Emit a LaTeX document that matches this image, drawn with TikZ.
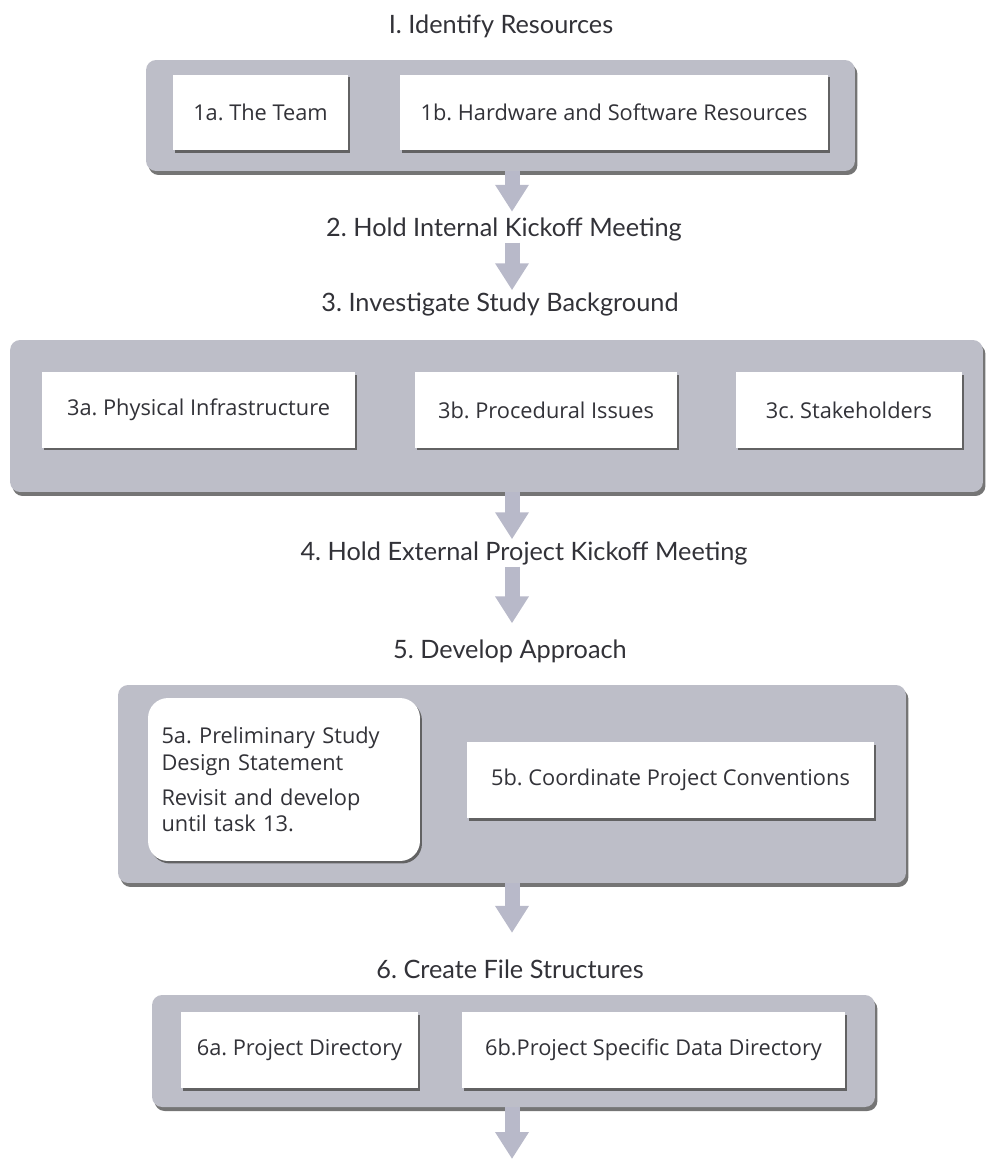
\documentclass[tikz,border=0pt]{standalone}
\usepackage{fontspec}
\setmainfont{Lato}
\newfontfamily\taskfont{Open Sans}
\usetikzlibrary{arrows.meta,shadows}
\frenchspacing
\definecolor{phasegray}{RGB}{189,190,200}
\definecolor{flowgray}{RGB}{184,185,201}
\definecolor{inkgray}{RGB}{50,50,56}
\tikzstyle{phase}=[fill=phasegray, rounded corners=0.2cm,
  drop shadow={shadow xshift=0.05cm, shadow yshift=-0.08cm, fill=black!60, opacity=0.9}]
\tikzstyle{task}=[fill=white, text=inkgray, text centered,
  font=\taskfont\fontsize{12.4}{15}\selectfont, minimum height=1.52cm,
  drop shadow={shadow xshift=0.04cm, shadow yshift=-0.05cm, fill=black!65, opacity=0.9}]
\tikzstyle{heading}=[text=inkgray, font=\fontsize{14.4}{17}\selectfont, inner sep=1pt]
\tikzstyle{flow}=[draw=flowgray, line width=0.3cm,
  -{Triangle[width=0.64cm,length=0.54cm]}]

\begin{document}
\begin{tikzpicture}[x=0.02cm, y=-0.02cm]
  \useasboundingbox (0,0) rectangle (987,1159);
  \coordinate (axis) at (512,0);

  % 1. resources
  \node(res)[heading] at (501,26) {I. Identify Resources};
  \node(resbox)[phase, minimum width=14.18cm, minimum height=2.22cm] at (500.5,115.5) {};
  \node(team)[task, minimum width=3.5cm] at (260.5,112.5) {1a. The Team};
  \node(hwsw)[task, minimum width=8.56cm] at (614,112.5) {1b. Hardware and Software Resources};

  % 2. + 3.
  \node(internal)[heading] at (504,229) {2. Hold Internal Kickoff Meeting};
  \draw[flow, shorten >=2] (resbox.south -| axis) -- (internal.north -| axis);

  \node(study)[heading] at (500,304) {3. Investigate Study Background};
  \draw[flow] (internal.south -| axis) -- (study.north -| axis);

  \node(studybox)[phase, minimum width=19.46cm, minimum height=3.04cm] at (496.5,416) {};
  \node(physical)[task, minimum width=6.26cm] at (198.5,410) {3a. Physical Infrastructure};
  \node(procedural)[task, minimum width=5.24cm] at (546,410) {3b. Procedural Issues};
  \node(stakeholders)[task, minimum width=4.52cm] at (849,410) {3c. Stakeholders};

  % 4. + 5.
  \node(external)[heading] at (524,553) {4. Hold External Project Kickoff Meeting};
  \draw[flow] (studybox.south -| axis) -- (external.north -| axis);

  \node(approach)[heading] at (510,651) {5. Develop Approach};
  \draw[flow, shorten >=8] (external.south -| axis) -- (approach.north -| axis);

  \node(approachbox)[phase, minimum width=15.76cm, minimum height=3.96cm] at (512,784) {};
  \node(design)[task, rounded corners=0.4cm, minimum width=5.44cm, minimum height=3.26cm,
    align=left, text width=4.9cm] at (284,779.5) {
    5a. Preliminary Study\\
    Design Statement\\[5pt]
    Revisit and develop\\
    until task 13.
  };
  \node(conventions)[task, minimum width=8.14cm] at (670.5,780) {5b. Coordinate Project Conventions};

  % 6. files
  \node(files)[heading] at (510,969) {6. Create File Structures};
  \draw[flow, shorten >=14] (approachbox.south -| axis) -- (files.north -| axis);

  \node(filesbox)[phase, minimum width=14.46cm, minimum height=2.24cm] at (513.5,1051) {};
  \node(projdir)[task, minimum width=4.74cm] at (299.5,1050) {6a. Project Directory};
  \node(datadir)[task, minimum width=7.66cm] at (653.5,1050) {6b.Project Specific Data Directory};

  \coordinate (next) at (512,1159);
  \draw[flow] (filesbox.south -| axis) -- (next);
\end{tikzpicture}
\end{document}
